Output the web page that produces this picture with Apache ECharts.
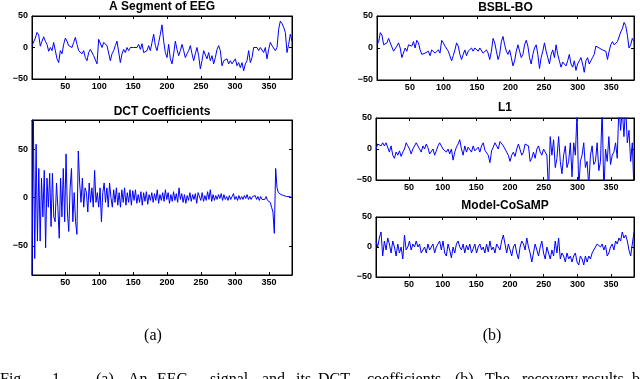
<!DOCTYPE html>
<html><head><meta charset="utf-8">
<script src="https://cdn.jsdelivr.net/npm/echarts@6/dist/echarts.min.js"></script>
<style>html,body{margin:0;padding:0;background:#fff}#c{width:640px;height:379px}</style>
</head><body><div id="c"></div>
<script>
// ---- data (sample index range 1..384; readings equally spaced across it) ----
const xTickLabels = [50, 100, 150, 200, 250, 300, 350];
const yTickLabels = [-50, 0, 50];
const panelTitles = ['A Segment of EEG', 'DCT Coefficients', 'BSBL-BO', 'L1', 'Model-CoSaMP'];

const eegSegment = [3,5,15,24,20,2,10,17,10,5,-6,0,-5,8,-5,-18,-24,-5,-10,5,15,10,3,5,0,8,16,5,-5,-3,-10,-5,-16,-21,-8,-3,-5,-13,-10,-26,13,10,0,8,10,3,0,-21,-10,-5,3,10,8,-24,-10,-3,-8,0,-5,0,-3,0,3,0,5,-3,6,-8,-10,-5,3,-5,8,21,3,-5,8,21,36,10,-8,-16,5,-18,-26,-10,10,-3,-13,-5,5,-5,-16,-10,-5,3,-10,-21,-10,0,-13,-34,-21,-5,-3,-18,-8,-21,-13,-26,-16,-3,3,-5,-29,-21,-24,-18,-26,-21,-26,-24,-18,-29,-24,-32,-24,-37,-26,-21,-5,-24,-16,0,3,0,-5,0,-3,-8,0,-18,-3,8,3,0,-5,0,29,42,38,32,24,-8,5,21,10];

const dctCoeffs = [-80,80,-63,55,-45,30,-45,20,-20,28,-52,20,-10,25,-30,25,-20,-25,15,-10,-42,20,-20,30,-25,45,-15,-35,10,30,-25,5,-25,-38,48,15,-5,20,-10,10,5,-15,15,-5,10,-10,28,-5,5,-10,10,-25,5,15,-5,10,-10,15,0,-10,8,-5,10,-8,5,-10,8,-5,10,-8,5,-5,8,-8,7,-3,8,-6,3,-5,6,-8,5,-4,6,-7,3,-3,5,-5,4,-3,8,-6,3,-3,5,-4,8,-2,5,-6,3,-4,6,-3,4,-5,10,-2,4,-5,3,-6,2,-3,5,-4,3,-2,4,-6,5,3,-3,5,-4,2,-3,6,-2,8,-4,3,-3,2,-2,3,-1,4,-3,3,-2,1,-3,2,-2,1,4,-2,1,-3,2,-2,1,-2,2,-1,3,-2,1,-2,1,-1,2,-2,1,-3,1,-2,0,-2,1,-3,-2,-5,-10,-15,-37,30,10,5,4,3,3,2,2,1,1,1,0,0];

const bsblBo = [5,10,24,20,5,2,8,15,8,5,-5,-3,3,8,0,-15,-12,0,-5,5,8,3,10,0,12,8,-3,-10,-12,-8,-10,-5,-12,-3,-5,-8,-5,-3,-8,12,8,3,5,-5,-8,-20,-12,-3,8,3,-10,-18,-10,-3,-12,-5,-3,0,-5,0,-3,-5,0,-3,-8,-5,-3,-8,-18,-5,15,8,-5,-18,-10,10,18,5,-5,-10,-3,-15,-28,-20,-5,5,-5,-15,-10,5,12,3,-15,-25,-10,0,5,-10,-32,-15,-5,8,-5,-15,-25,-10,-3,-15,5,-10,-20,-30,-22,-25,-28,-20,-10,-25,-30,-20,-35,-25,-20,-15,-25,-38,-20,-15,-25,-20,-15,-10,3,5,0,3,-3,0,-5,-18,-5,5,10,5,3,10,10,25,30,40,35,20,0,5,15,10];

const l1Recovery = [0,8,10,5,10,5,10,8,-5,5,-10,-15,-5,-10,-3,-12,-5,0,10,5,0,-8,0,5,10,8,0,-5,5,0,8,2,-8,-5,0,-10,-3,5,10,5,0,3,-5,0,-8,0,-18,-5,3,8,15,0,-10,5,-5,3,0,-5,5,-3,0,3,-5,5,10,-2,0,-10,-22,-3,3,10,5,0,12,15,5,0,-5,-10,-20,-10,-5,-12,0,8,5,-10,-5,8,10,5,-20,-15,-5,-15,0,5,-5,-10,0,-3,-10,-70,20,-10,15,-30,-15,20,-20,-40,-10,5,-30,-20,10,-45,10,-10,60,-65,-20,-10,10,-30,-20,-60,-10,5,-25,-20,10,-35,-20,65,-70,0,-20,20,-25,-10,-5,10,-15,70,30,65,20,70,10,30,-20,10,-70];

const modelCoSaMP = [10,0,15,25,-15,10,-5,15,5,-10,10,0,-15,5,-10,0,-20,20,-5,0,10,-5,5,0,10,0,5,-10,-5,0,-10,5,-5,0,5,-10,0,5,10,-5,10,-10,-15,5,-5,-18,0,-10,5,10,0,-5,5,-10,3,-5,5,-10,-3,5,-10,0,5,-5,0,-10,5,-8,10,-5,0,-10,5,0,-5,10,20,5,-10,5,-5,-15,0,5,-10,-20,0,10,5,-5,15,0,-10,-25,-10,5,-5,-15,0,10,-10,-20,0,-10,-20,-5,-15,10,-10,15,-20,-10,-15,-25,-10,-20,-15,-25,-15,-10,-25,-30,-15,-20,-30,-15,-25,-15,-20,-10,-5,0,5,3,0,5,-5,3,-15,-10,0,5,-5,10,5,15,10,25,15,20,10,-5,-15,5,25];

const panelSeries = [eegSegment, dctCoeffs, bsblBo, l1Recovery, modelCoSaMP];
const panelYRange = [[-50, 50], [-80, 80], [-50, 50], [-50, 50], [-50, 50]];

const captionWords = ['Fig.', '1.', '(a)', 'An', 'EEG', 'signal', 'and', 'its', 'DCT', 'coefficients.', '(b)', 'The', 'recovery', 'results', 'by'];

// ---- layout ----
const grids = [
  {left: 32, top: 16, width: 260, height: 63},
  {left: 32, top: 120, width: 260, height: 155},
  {left: 377, top: 16, width: 257, height: 64},
  {left: 376, top: 118, width: 258, height: 62},
  {left: 376, top: 217, width: 258, height: 60}
];
const titleY = [7, 112, 8, 108, 206];
const captionX = [0, 52, 96, 128, 157, 210, 262, 296, 318, 367, 455, 485, 522, 582, 632];

function toPairs(vals) {
  const n = vals.length;
  return vals.map((v, i) => [1 + i * 383 / (n - 1), v]);
}
const tickFont = {fontFamily: 'Liberation Sans', fontWeight: 'bold', fontSize: 9, color: '#000'};
const fmt = v => String(v).replace('-', '\u2212');

const xAxes = [], yAxes = [], series = [], graphics = [];
grids.forEach((g, k) => {
  const base = {type: 'value', gridIndex: k, min: 1, max: 384, splitLine: {show: false},
    axisLine: {show: true, onZero: false, lineStyle: {color: '#000', width: 1}},
    axisTick: {show: true, inside: true, length: 3, customValues: xTickLabels, lineStyle: {color: '#000'}}};
  xAxes.push(Object.assign({}, base, {position: 'bottom',
    axisLabel: Object.assign({show: true, margin: 3, customValues: xTickLabels, formatter: fmt}, tickFont)}));
  xAxes.push(Object.assign({}, base, {position: 'top', axisLabel: {show: false}}));
  const yb = {type: 'value', gridIndex: k, min: panelYRange[k][0], max: panelYRange[k][1], splitLine: {show: false},
    axisLine: {show: true, onZero: false, lineStyle: {color: '#000', width: 1}},
    axisTick: {show: true, inside: true, length: 3, customValues: yTickLabels, lineStyle: {color: '#000'}}};
  yAxes.push(Object.assign({}, yb, {position: 'left',
    axisLabel: Object.assign({show: true, margin: 4, customValues: yTickLabels, formatter: fmt}, tickFont)}));
  yAxes.push(Object.assign({}, yb, {position: 'right', axisLabel: {show: false}}));
  series.push({type: 'line', xAxisIndex: 2 * k, yAxisIndex: 2 * k, data: toPairs(panelSeries[k]),
    showSymbol: false, clip: true, lineStyle: {color: '#0000ff', width: 1}, itemStyle: {color: '#0000ff'}});
  graphics.push({type: 'text', x: g.left + g.width / 2, y: titleY[k],
    style: {text: panelTitles[k], textAlign: 'center', textVerticalAlign: 'middle',
      font: 'bold 12px "Liberation Sans"', fill: '#000'}});
});
graphics.push({type: 'text', x: 153, y: 336, style: {text: '(a)', textAlign: 'center', textVerticalAlign: 'middle', font: '16px "Liberation Serif"', fill: '#000'}});
graphics.push({type: 'text', x: 492, y: 336, style: {text: '(b)', textAlign: 'center', textVerticalAlign: 'middle', font: '16px "Liberation Serif"', fill: '#000'}});
captionWords.forEach((w, i) => {
  graphics.push({type: 'text', x: captionX[i], y: 372, style: {text: w, textAlign: 'left', textVerticalAlign: 'top', font: '16px "Liberation Serif"', fill: '#000'}});
});

const chart = echarts.init(document.getElementById('c'), null, {renderer: 'canvas'});
chart.setOption({
  animation: false,
  backgroundColor: '#fff',
  grid: grids.map(g => Object.assign({show: true, borderColor: '#000', borderWidth: 1, backgroundColor: '#fff'}, g)),
  xAxis: xAxes, yAxis: yAxes, series: series, graphic: graphics
});
</script></body></html>
